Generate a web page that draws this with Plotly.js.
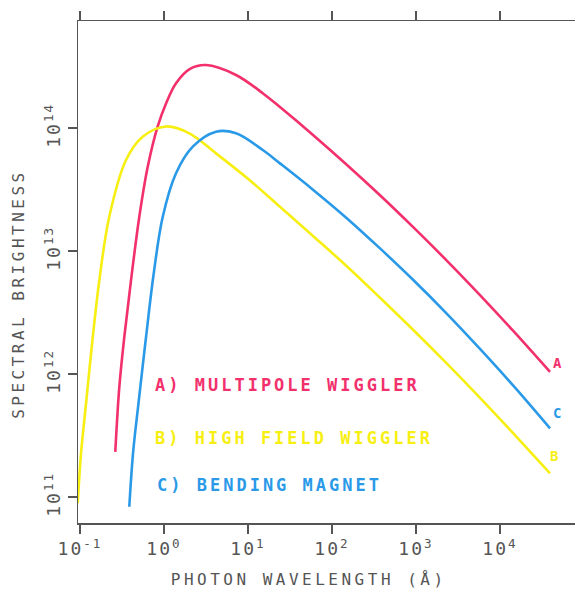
<!DOCTYPE html>
<html>
<head>
<meta charset="utf-8">
<script src="https://cdn.plot.ly/plotly-3.0.1.min.js"></script>
<style>
  html, body { margin: 0; padding: 0; background: #ffffff; }
  #chart { width: 575px; height: 590px; }
  .xtick text { letter-spacing: 2px; }
  .ytick text { letter-spacing: 2px; }
  .annotation-text { letter-spacing: 3px; }
  .annotation[data-index="0"] .annotation-text,
  .annotation[data-index="1"] .annotation-text { letter-spacing: 3.5px; }
</style>
</head>
<body>
<div id="chart"></div>
<script>
// Curve A: multipole wiggler
const wavelengthA = [0.263, 0.294, 0.337, 0.405, 0.508, 0.640, 0.841, 1.06, 1.39, 2.04, 3.16, 7.19, 15.1, 24.0, 59.4, 151, 373, 920, 2340, 5780, 14300, 39400];
const brightnessA = [2.33e11, 7.89e11, 2.01e12, 5.81e12, 1.90e13, 4.84e13, 1.03e14, 1.59e14, 2.31e14, 3.02e14, 3.25e14, 2.70e14, 1.91e14, 1.48e14, 8.79e13, 5.01e13, 2.84e13, 1.57e13, 8.32e12, 4.38e12, 2.25e12, 1.04e12];
// Curve B: high field wiggler
const wavelengthB = [0.0939, 0.1028, 0.118, 0.142, 0.170, 0.223, 0.353, 0.557, 1.06, 2.00, 4.16, 10.4, 24.0, 59.8, 150, 373, 929, 2320, 5780, 14400, 39400];
const brightnessB = [8.9e10, 2.26e11, 5.78e11, 2.01e12, 5.81e12, 1.90e13, 5.5e13, 8.5e13, 1.03e14, 9.06e13, 6.22e13, 3.78e13, 2.29e13, 1.32e13, 7.52e12, 4.17e12, 2.28e12, 1.22e12, 6.41e11, 3.30e11, 1.56e11];
// Curve C: bending magnet
const wavelengthC = [0.386, 0.428, 0.497, 0.611, 0.750, 0.966, 1.39, 2.20, 4.16, 7.19, 15.0, 24.0, 59.8, 150, 373, 929, 2320, 5780, 14400, 39400];
const brightnessC = [8.34e10, 2.28e11, 5.81e11, 2.0e12, 6.38e12, 1.90e13, 4.29e13, 7.05e13, 9.33e13, 9.06e13, 6.62e13, 5.16e13, 3.14e13, 1.85e13, 1.05e13, 5.81e12, 3.10e12, 1.60e12, 8.04e11, 3.62e11];

const xTickVals = [0.1, 1, 10, 100, 1000, 10000];
const xTickText = ['10<sup>-1</sup>', '10<sup>0</sup>', '10<sup>1</sup>', '10<sup>2</sup>', '10<sup>3</sup>', '10<sup>4</sup>'];
const yTickVals = [1e11, 1e12, 1e13, 1e14];
const yTickText = ['10<sup>11</sup>', '10<sup>12</sup>', '10<sup>13</sup>', '10<sup>14</sup>'];

const seriesNames = ['A) MULTIPOLE WIGGLER', 'B) HIGH FIELD WIGGLER', 'C) BENDING MAGNET'];
const endLabels = ['A', 'B', 'C'];
const xTitle = 'PHOTON WAVELENGTH (Å)';
const yTitle = 'SPECTRAL BRIGHTNESS';

const colA = '#f2306c', colB = '#f7ef12', colC = '#2a9ae8';
const gray = '#555555';
const mono = 'DejaVu Sans Mono';

function trace(x, y, name, color) {
  return { x: x, y: y, name: name, type: 'scatter', mode: 'lines',
    line: { color: color, width: 2.6, shape: 'spline', smoothing: 1 },
    hoverinfo: 'skip', cliponaxis: true };
}

const data = [
  trace(wavelengthA, brightnessA, seriesNames[0], colA),
  trace(wavelengthB, brightnessB, seriesNames[1], colB),
  trace(wavelengthC, brightnessC, seriesNames[2], colC)
];

const layout = {
  width: 575, height: 590,
  margin: { l: 78, r: 0, t: 21, b: 67 },
  paper_bgcolor: '#ffffff', plot_bgcolor: '#ffffff',
  showlegend: false,
  font: { family: mono, color: gray },
  xaxis: {
    type: 'log', range: [-1.024, 4.893],
    showgrid: false, zeroline: false,
    showline: true, linecolor: gray, linewidth: 1.5,
    mirror: 'ticks', ticks: 'outside', ticklen: 9, tickwidth: 1.5, tickcolor: gray,
    tickvals: xTickVals, ticktext: xTickText,
    tickfont: { family: mono, size: 18, color: gray }
  },
  yaxis: {
    type: 'log', range: [10.789, 14.870],
    showgrid: false, zeroline: false,
    showline: true, linecolor: gray, linewidth: 1.5,
    ticks: 'outside', ticklen: 9, tickwidth: 1.5, tickcolor: gray,
    tickvals: yTickVals, ticktext: yTickText, tickangle: -90,
    tickfont: { family: mono, size: 18, color: gray }
  },
  annotations: [
    { text: yTitle, xref: 'paper', yref: 'paper', x: -0.1207, y: 0.456, xanchor: 'center', yanchor: 'middle',
      textangle: -90, showarrow: false, font: { family: mono, size: 16, color: gray } },
    { text: xTitle, xref: 'paper', yref: 'paper', x: 0.463, y: -0.1135, xanchor: 'center', yanchor: 'middle',
      showarrow: false, font: { family: mono, size: 16, color: gray } },
    { text: seriesNames[0], xref: 'paper', yref: 'paper', x: 0.151, y: 0.275, xanchor: 'left', yanchor: 'middle',
      showarrow: false, font: { family: mono, size: 17, color: colA, weight: 'bold' } },
    { text: seriesNames[1], xref: 'paper', yref: 'paper', x: 0.151, y: 0.169, xanchor: 'left', yanchor: 'middle',
      showarrow: false, font: { family: mono, size: 17, color: colB, weight: 'bold' } },
    { text: seriesNames[2], xref: 'paper', yref: 'paper', x: 0.155, y: 0.0757, xanchor: 'left', yanchor: 'middle',
      showarrow: false, font: { family: mono, size: 17, color: colC, weight: 'bold' } },
    { text: endLabels[0], xref: 'paper', yref: 'paper', x: 0.966, y: 0.319, xanchor: 'center', yanchor: 'middle',
      showarrow: false, font: { family: mono, size: 14, color: colA, weight: 'bold' } },
    { text: endLabels[2], xref: 'paper', yref: 'paper', x: 0.966, y: 0.219, xanchor: 'center', yanchor: 'middle',
      showarrow: false, font: { family: mono, size: 14, color: colC, weight: 'bold' } },
    { text: endLabels[1], xref: 'paper', yref: 'paper', x: 0.960, y: 0.133, xanchor: 'center', yanchor: 'middle',
      showarrow: false, font: { family: mono, size: 14, color: colB, weight: 'bold' } }
  ]
};

Plotly.newPlot('chart', data, layout, { staticPlot: true, displayModeBar: false });
</script>
</body>
</html>
